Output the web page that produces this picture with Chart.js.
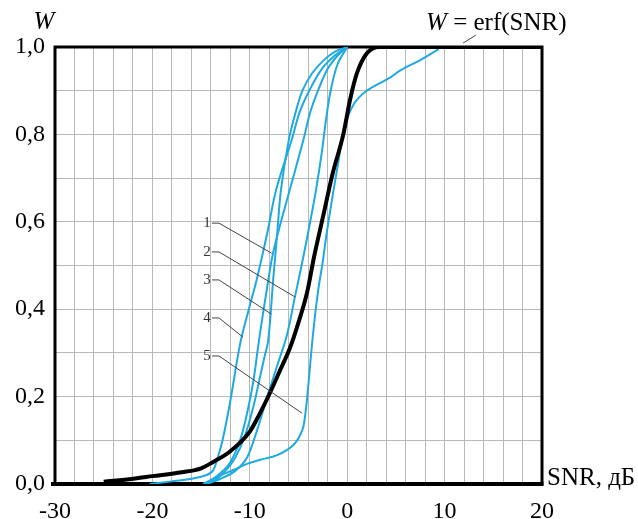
<!DOCTYPE html>
<html>
<head>
<meta charset="utf-8">
<script src="https://cdn.jsdelivr.net/npm/chart.js@4.4.0/dist/chart.umd.min.js"></script>
<style>
  html, body { margin: 0; padding: 0; background: #fff; }
</style>
</head>
<body>
<canvas id="grafico" width="638" height="519"></canvas>
<script>
// Dados: pares [SNR (dB), W]
const curvaErf = [[-25, 0.005], [-22, 0.012], [-20, 0.018], [-17, 0.027], [-15, 0.036], [-13.8, 0.05],
  [-12, 0.075], [-10, 0.12], [-9, 0.16], [-7.9, 0.21], [-6.9, 0.26], [-5.9, 0.31], [-5, 0.37],
  [-4.1, 0.44], [-3.4, 0.52], [-2.5, 0.61], [-1.5, 0.71], [-0.4, 0.8], [0.3, 0.88], [1, 0.94],
  [2, 0.985], [3.3, 1], [20, 1]];
const curva1 = [[-14.8, 0], [-14, 0.008], [-13, 0.025], [-12, 0.05], [-11, 0.1], [-10.2, 0.17],
  [-9.6, 0.24], [-9.05, 0.33], [-8.1, 0.467], [-7.6, 0.53], [-6.8, 0.6], [-5.9, 0.673],
  [-4.5, 0.787], [-3.8, 0.85], [-3.0, 0.9], [-2.0, 0.95], [-1.0, 0.98], [0, 1]];
const curva2 = [[-14.5, 0], [-13, 0.012], [-11.5, 0.03], [-10.3, 0.06], [-9.3, 0.12], [-8.2, 0.2],
  [-7.2, 0.27], [-6.2, 0.34], [-5.35, 0.43], [-4.5, 0.52], [-3.8, 0.6], [-3.2, 0.673],
  [-2.6, 0.76], [-2.2, 0.83], [-1.7, 0.9], [-1.0, 0.96], [0, 1]];
const curva3 = [[-14.6, 0], [-13.5, 0.01], [-12.5, 0.03], [-11.5, 0.06], [-10.5, 0.11], [-9.6, 0.18],
  [-9.0, 0.24], [-8.5, 0.29], [-8.1, 0.33], [-7.6, 0.467], [-7.2, 0.57], [-6.8, 0.673],
  [-6.0, 0.787], [-5.3, 0.85], [-4.6, 0.9], [-3.6, 0.94], [-2.4, 0.97], [-1.2, 0.99], [0, 1]];
const curva4 = [[-20.3, 0], [-18, 0.006], [-16, 0.012], [-14.5, 0.02], [-13.8, 0.03], [-13.3, 0.06],
  [-12.8, 0.1], [-12, 0.19], [-11, 0.32], [-10.1, 0.4], [-9.3, 0.467], [-8.2, 0.575],
  [-7.3, 0.673], [-5.7, 0.787], [-4.9, 0.85], [-3.9, 0.9], [-2.6, 0.95], [-1.3, 0.98], [0, 1]];
const curva5 = [[-14.8, 0], [-13.4, 0.016], [-11.7, 0.032], [-10.3, 0.046], [-9, 0.055], [-7.2, 0.066],
  [-5.5, 0.09], [-4.6, 0.124], [-4.3, 0.16], [-4.1, 0.2], [-3.5, 0.345], [-3.0, 0.44],
  [-2.5, 0.51], [-2.1, 0.575], [-1.0, 0.725], [-0.2, 0.82], [0.7, 0.87], [2.0, 0.9],
  [4.4, 0.93], [5.5, 0.947], [7.5, 0.97], [9.4, 0.995]];

const rotulosCurvas = ['1', '2', '3', '4', '5'];
// posição do número e ponta da linha de chamada (em unidades dos eixos)
const chamadas = [
  { texto: '1', x: -14.4, y: 0.597, px: -7.75, py: 0.528 },
  { texto: '2', x: -14.4, y: 0.531, px: -5.35, py: 0.428 },
  { texto: '3', x: -14.4, y: 0.467, px: -7.8, py: 0.389 },
  { texto: '4', x: -14.4, y: 0.38, px: -10.7, py: 0.336 },
  { texto: '5', x: -14.4, y: 0.293, px: -4.63, py: 0.162 }
];

const AZUL = 'rgb(30, 170, 225)';
const FONTE = '"Liberation Serif", "Times New Roman", serif';

function pontos(arr) {
  return arr.map(p => ({ x: p[0], y: p[1] }));
}

function serieAzul(arr, nome) {
  return {
    label: nome,
    data: pontos(arr),
    borderColor: AZUL,
    borderWidth: 2,
    pointRadius: 0,
    fill: false,
    tension: 0.35
  };
}

// moldura e textos extras
const extras = {
  id: 'extras',
  beforeDatasetsDraw(chart) {
    const { ctx, chartArea: a } = chart;
    ctx.save();
    ctx.strokeStyle = '#000';
    ctx.lineWidth = 3;
    ctx.strokeRect(a.left, a.top, a.right - a.left, a.bottom - a.top);
    ctx.lineWidth = 4;
    ctx.beginPath();
    ctx.moveTo(a.left - 4, a.bottom);
    ctx.lineTo(a.right + 1.5, a.bottom);
    ctx.stroke();
    ctx.restore();
  },
  afterDatasetsDraw(chart) {
    const { ctx, chartArea: a, scales } = chart;
    const sx = scales.x, sy = scales.y;
    ctx.save();
    ctx.fillStyle = '#333';
    ctx.strokeStyle = '#444';
    ctx.lineWidth = 1;
    ctx.font = '15px ' + FONTE;
    ctx.textAlign = 'center';
    ctx.textBaseline = 'middle';
    chamadas.forEach(c => {
      const lx = sx.getPixelForValue(c.x), ly = sy.getPixelForValue(c.y);
      ctx.fillText(c.texto, lx, ly);
      ctx.beginPath();
      ctx.moveTo(lx + 5, ly);
      ctx.lineTo(lx + 12, ly);
      ctx.lineTo(sx.getPixelForValue(c.px), sy.getPixelForValue(c.py));
      ctx.stroke();
    });

    // W = erf(SNR)
    ctx.fillStyle = '#000';
    ctx.textAlign = 'left';
    ctx.textBaseline = 'alphabetic';
    const tx = sx.getPixelForValue(8.1), ty = sy.getPixelForValue(1.0) - 17;
    ctx.font = 'italic 25px ' + FONTE;
    ctx.fillText('W', tx, ty);
    const wW = ctx.measureText('W').width;
    ctx.font = '25px ' + FONTE;
    ctx.fillText(' = erf(SNR)', tx + wW, ty);
    ctx.beginPath();
    ctx.moveTo(sx.getPixelForValue(13.2), sy.getPixelForValue(1.027));
    ctx.lineTo(sx.getPixelForValue(11.9), sy.getPixelForValue(1.009));
    ctx.stroke();

    // títulos dos eixos
    ctx.font = 'italic 25px ' + FONTE;
    ctx.textAlign = 'center';
    ctx.fillText('W', a.left - 11, a.top - 18);
    ctx.font = '25px ' + FONTE;
    ctx.textAlign = 'left';
    ctx.fillText('SNR, дБ', a.right + 5, a.bottom + 1);
    ctx.restore();
  }
};

new Chart(document.getElementById('grafico'), {
  type: 'line',
  data: {
    datasets: [
      {
        label: 'W = erf(SNR)',
        data: pontos(curvaErf),
        borderColor: '#000',
        borderWidth: 4,
        pointRadius: 0,
        fill: false,
        cubicInterpolationMode: 'monotone'
      },
      serieAzul(curva1, rotulosCurvas[0]),
      serieAzul(curva2, rotulosCurvas[1]),
      serieAzul(curva3, rotulosCurvas[2]),
      serieAzul(curva4, rotulosCurvas[3]),
      serieAzul(curva5, rotulosCurvas[4])
    ]
  },
  options: {
    responsive: false,
    animation: false,
    layout: { padding: { top: 47, right: 96, left: 0, bottom: 0 } },
    plugins: { legend: { display: false }, tooltip: { enabled: false } },
    scales: {
      x: {
        type: 'linear',
        min: -30,
        max: 20,
        afterFit(scale) { scale.height = 35; },
        grid: { color: '#b8b8b8', lineWidth: 1, drawTicks: false },
        border: { display: false },
        ticks: {
          stepSize: 2,
          autoSkip: false,
          maxRotation: 0,
          padding: 13,
          color: '#000',
          font: { family: FONTE, size: 24 },
          callback: v => (v % 10 === 0 ? String(v) : '')
        }
      },
      y: {
        type: 'linear',
        min: 0,
        max: 1,
        afterFit(scale) { scale.width = 55; },
        grid: { color: '#b8b8b8', lineWidth: 1, drawTicks: false },
        border: { display: false },
        ticks: {
          stepSize: 0.1,
          autoSkip: false,
          padding: 10,
          color: '#000',
          font: { family: FONTE, size: 24 },
          callback: v => {
            const k = Math.round(v * 10);
            return k % 2 === 0 ? (k / 10).toFixed(1).replace('.', ',') : '';
          }
        }
      }
    }
  },
  plugins: [extras]
});
</script>
</body>
</html>
